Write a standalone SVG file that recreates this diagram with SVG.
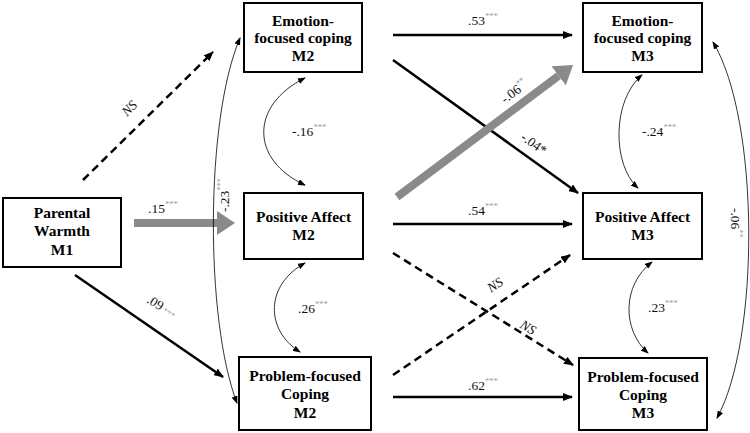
<svg xmlns="http://www.w3.org/2000/svg" width="750" height="433" viewBox="0 0 750 433" font-family="'Liberation Serif', 'Times New Roman', 'DejaVu Serif', serif">
<style>
text{font-family:'Liberation Serif','Times New Roman','DejaVu Serif',serif}
.box{fill:#fff;stroke:#000;stroke-width:2}
.nt{font-weight:bold;font-size:15.5px;text-anchor:middle;fill:#000}
.lb{font-size:13.5px;fill:#111}
.st{font-size:8.5px;fill:#999}
.ns{font-size:13.5px;font-style:italic;fill:#111}
.sol{stroke:#000;stroke-width:2.5;fill:none;marker-end:url(#arr)}
.dash{stroke:#000;stroke-width:2.5;fill:none;stroke-dasharray:8 5;marker-end:url(#arr)}
.gray{stroke:#8a8a8a;stroke-width:8;fill:none;marker-end:url(#garr)}
.cur{stroke:#000;stroke-width:0.8;fill:none;marker-start:url(#sm);marker-end:url(#sm)}
</style>
<defs>
<marker id="arr" viewBox="0 0 10 8" refX="9" refY="4" markerWidth="10" markerHeight="8" markerUnits="userSpaceOnUse" orient="auto"><path d="M0,0 L10,4 L0,8 z" fill="#000"/></marker>
<marker id="garr" viewBox="0 0 18 24" refX="0" refY="12" markerWidth="18" markerHeight="24" markerUnits="userSpaceOnUse" orient="auto"><path d="M0,0 L18,12 L0,24 z" fill="#8a8a8a"/></marker>
<marker id="sm" viewBox="0 0 8 6" refX="7" refY="3" markerWidth="8" markerHeight="6" markerUnits="userSpaceOnUse" orient="auto-start-reverse"><path d="M0,0 L8,3 L0,6 z" fill="#000"/></marker>
</defs>
<rect width="750" height="433" fill="#fff"/>
<g id="connectors">
<line class="dash" x1="83" y1="180" x2="213" y2="52"/>
<line class="gray" x1="134" y1="223" x2="217" y2="223"/>
<line class="sol" x1="75" y1="275" x2="223" y2="377"/>
<path class="cur" d="M240,38 C205,120 205,320 237,403"/>
<path class="cur" d="M305,78 C250,105 250,160 305,185"/>
<path class="cur" d="M305,263 C265,285 265,330 300,352"/>
<line class="sol" x1="393" y1="35" x2="572" y2="35"/>
<line class="sol" x1="393" y1="60" x2="578" y2="193"/>
<line class="gray" x1="397" y1="197" x2="558.6" y2="75.8"/>
<line class="sol" x1="393" y1="224" x2="572" y2="224"/>
<line class="dash" x1="393" y1="253" x2="573" y2="365"/>
<line class="dash" x1="393" y1="375" x2="570" y2="255"/>
<line class="sol" x1="393" y1="397" x2="572" y2="397"/>
<path class="cur" d="M642,75 C612,100 612,165 638,188"/>
<path class="cur" d="M652,262 C622,285 622,330 648,353"/>
<path class="cur" d="M713,42 C760,120 760,340 717,418"/>
</g>
<g id="labels">
<text class="ns" transform="translate(127,117) rotate(-45)">NS</text>
<text class="lb" x="148" y="213">.15<tspan class="st" dy="-6">***</tspan></text>
<text class="lb" transform="translate(146,302) rotate(32)">.09<tspan class="st" dx="2">***</tspan></text>
<text class="lb" transform="translate(229,212) rotate(-90)">-.23<tspan class="st" dy="-6">***</tspan></text>
<text class="lb" x="292" y="136">-.16<tspan class="st" dy="-6">***</tspan></text>
<text class="lb" x="298" y="313">.26<tspan class="st" dy="-6">***</tspan></text>
<text class="lb" x="468" y="25">.53<tspan class="st" dy="-6">***</tspan></text>
<text class="lb" transform="translate(505,104) rotate(-37)">-.06<tspan class="st" dy="-6">**</tspan></text>
<text class="lb" transform="translate(520,139) rotate(36)">-.04*</text>
<text class="lb" x="468" y="215">.54<tspan class="st" dy="-6">***</tspan></text>
<text class="ns" transform="translate(491,293) rotate(-34)">NS</text>
<text class="ns" transform="translate(519,327) rotate(32)">NS</text>
<text class="lb" x="468" y="390">.62<tspan class="st" dy="-6">***</tspan></text>
<text class="lb" x="642" y="136">-.24<tspan class="st" dy="-6">***</tspan></text>
<text class="lb" x="648" y="312">.23<tspan class="st" dy="-6">***</tspan></text>
<text class="lb" transform="translate(731,208) rotate(90)">-.06<tspan class="st" dy="-6">**</tspan></text>
</g>
<g id="parental-warmth-m1">
<rect class="box" x="3" y="198" width="118" height="69"/>
<text class="nt" x="62" y="218">Parental</text>
<text class="nt" x="62" y="236">Warmth</text>
<text class="nt" x="62" y="255">M1</text>
</g>
<g id="emotion-m2">
<rect class="box" x="244" y="3" width="118" height="69"/>
<text class="nt" x="303" y="26">Emotion-</text>
<text class="nt" x="303" y="43">focused coping</text>
<text class="nt" x="303" y="61">M2</text>
</g>
<g id="positive-m2">
<rect class="box" x="244" y="193" width="119" height="66"/>
<text class="nt" x="303.5" y="222">Positive Affect</text>
<text class="nt" x="303.5" y="240">M2</text>
</g>
<g id="problem-m2">
<rect class="box" x="239" y="357" width="132" height="73"/>
<text class="nt" x="305" y="381">Problem-focused</text>
<text class="nt" x="305" y="399">Coping</text>
<text class="nt" x="305" y="418">M2</text>
</g>
<g id="emotion-m3">
<rect class="box" x="583" y="3" width="119" height="69"/>
<text class="nt" x="642.5" y="26">Emotion-</text>
<text class="nt" x="642.5" y="43">focused coping</text>
<text class="nt" x="642.5" y="61">M3</text>
</g>
<g id="positive-m3">
<rect class="box" x="583" y="193" width="119" height="66"/>
<text class="nt" x="642.5" y="222">Positive Affect</text>
<text class="nt" x="642.5" y="240">M3</text>
</g>
<g id="problem-m3">
<rect class="box" x="579" y="358" width="128" height="72"/>
<text class="nt" x="643" y="382">Problem-focused</text>
<text class="nt" x="643" y="400">Coping</text>
<text class="nt" x="643" y="418">M3</text>
</g>
</svg>
